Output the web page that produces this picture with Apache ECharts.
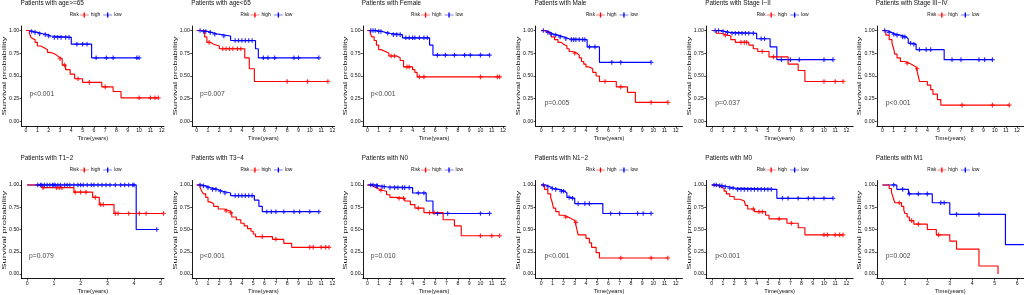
<!DOCTYPE html>
<html>
<head>
<meta charset="utf-8">
<script src="https://cdn.jsdelivr.net/npm/echarts@6/dist/echarts.min.js"></script>
<style>
html,body{margin:0;padding:0;background:#fff;}
#km{width:1024px;height:295px;}
</style>
</head>
<body>
<div id="km"></div>
<script>
// panel titles / p values / x tick max
var titles=['Patients with age>=65','Patients with age<65','Patients with Female','Patients with Male','Patients with Stage I\u2212II','Patients with Stage III\u2212IV',
	'Patients with T1\u22122','Patients with T3\u22124','Patients with N0','Patients with N1\u22122','Patients with M0','Patients with M1'];
var pvals=['p<0.001','p=0.007','p<0.001','p=0.005','p=0.037','p<0.001','p=0.079','p<0.001','p=0.010','p<0.001','p<0.001','p=0.002'];
var xTickMax=[12,12,12,12,12,12,5,12,12,12,12,6];
var yTicks=[0,0.25,0.5,0.75,1];

// [time, survival after drop]
var p1High=[[0.3,0.97],[0.45,0.92],[0.6,0.90],[0.8,0.87],[1.0,0.83],[1.3,0.81],[1.6,0.79],[1.9,0.76],[2.1,0.75],[2.4,0.73],[2.7,0.71],[2.9,0.69],[3.2,0.62],[3.5,0.57],[3.9,0.52],[4.3,0.47],[5.0,0.43],[6.7,0.38],[7.7,0.33],[8.4,0.26]];
var p1HighCens=[3.0,3.4,4.6,5.6,7.0,10.0,11.0,11.4,11.7];
var p1Low=[[0.3,0.99],[0.6,0.98],[1.0,0.965],[1.5,0.955],[1.9,0.94],[2.2,0.925],[4.0,0.85],[5.8,0.70]];
var p1LowCens=[0.5,0.8,1.2,1.7,2.0,2.5,2.8,3.1,3.5,3.8,4.5,5.0,5.4,6.2,7.1,7.7,9.8,10.0];

var p2High=[[0.7,0.93],[0.9,0.87],[1.2,0.85],[1.5,0.83],[2.0,0.80],[4.25,0.70],[4.65,0.58],[5.1,0.44]];
var p2HighCens=[1.1,2.3,2.6,2.9,3.2,3.6,3.9,8.0,9.8,11.6];
var p2Low=[[0.5,0.99],[1.0,0.98],[1.3,0.96],[1.9,0.94],[3.0,0.89],[5.2,0.80],[5.45,0.70]];
var p2LowCens=[0.3,0.6,0.8,1.2,1.6,2.4,3.4,3.7,4.0,4.3,4.6,4.9,5.9,6.3,6.9,8.6,9.0,10.8];

var p3High=[[0.25,0.97],[0.4,0.93],[0.6,0.89],[0.8,0.84],[1.0,0.79],[1.2,0.77],[1.6,0.75],[1.9,0.72],[2.6,0.70],[2.9,0.67],[3.2,0.60],[4.0,0.57],[4.2,0.54],[4.4,0.49]];
var p3HighCens=[2.1,2.4,3.5,3.7,4.6,5.0,10.0,11.5,11.7];
var p3Low=[[0.8,0.99],[1.3,0.98],[1.6,0.97],[2.0,0.955],[3.1,0.92],[5.5,0.84],[5.8,0.73]];
var p3LowCens=[0.3,0.5,0.7,1.0,1.2,1.8,2.3,2.6,2.9,3.4,3.7,4.0,4.2,4.6,5.0,5.3,6.2,6.9,7.7,8.6,9.1,10.0,10.8];

var p4High=[[0.3,0.98],[0.6,0.96],[0.9,0.93],[1.2,0.90],[1.5,0.87],[1.8,0.85],[2.0,0.83],[2.3,0.80],[2.5,0.77],[2.8,0.75],[3.2,0.73],[3.4,0.70],[3.6,0.66],[3.8,0.63],[4.0,0.60],[4.3,0.58],[4.6,0.54],[4.9,0.50],[5.2,0.44],[6.7,0.38],[7.7,0.32],[8.4,0.21]];
var p4HighCens=[3.0,5.7,7.1,9.8,11.3];
var p4Low=[[0.4,0.98],[0.8,0.96],[1.1,0.95],[1.5,0.93],[2.0,0.91],[2.5,0.90],[4.1,0.82],[5.2,0.65]];
var p4LowCens=[0.2,0.6,0.9,1.3,1.7,2.2,2.7,2.9,3.1,3.4,3.7,3.9,4.3,4.8,6.3,7.1,9.8];

var p5High=[[0.4,0.97],[0.8,0.95],[1.4,0.94],[1.7,0.90],[2.1,0.87],[3.3,0.84],[3.7,0.80],[4.1,0.77],[5.1,0.71],[6.8,0.63],[7.7,0.56],[8.3,0.44]];
var p5HighCens=[1.2,2.6,2.9,3.1,4.5,5.5,10.0,11.0,11.7];
var p5Low=[[0.8,0.99],[1.2,0.98],[1.6,0.97],[4.0,0.91],[5.2,0.82],[5.8,0.68]];
var p5LowCens=[0.3,0.6,1.0,1.4,1.8,2.1,2.4,2.7,3.0,3.3,3.7,4.4,4.7,6.2,7.0,7.8,10.0,10.8];

var p6High=[[0.3,0.95],[0.6,0.90],[0.85,0.86],[1.0,0.80],[1.1,0.74],[1.3,0.70],[1.6,0.66],[2.0,0.64],[2.4,0.62],[2.7,0.60],[3.0,0.58],[3.15,0.52],[3.3,0.44],[4.0,0.40],[4.3,0.35],[4.5,0.30],[4.9,0.24],[5.2,0.18]];
var p6HighCens=[2.2,3.1,7.1,9.8,11.3];
var p6Low=[[0.4,0.98],[0.8,0.96],[1.1,0.95],[1.6,0.93],[2.1,0.91],[2.3,0.86],[2.6,0.85],[3.0,0.79],[5.5,0.68]];
var p6LowCens=[0.2,0.6,1.0,1.3,1.8,2.0,2.5,2.8,3.3,3.9,4.3,6.2,7.0,8.6,9.1,9.8];

var p7High=[[0.56,0.97],[1.75,0.92],[2.45,0.86],[2.7,0.78],[3.25,0.68]];
var p7HighCens=[0.6,1.1,1.2,1.3,1.8,2.0,2.2,2.55,2.75,2.85,3.3,3.4,3.8,4.2,4.45,5.1];
var p7Low=[[4.08,0.50]];
var p7LowCens=[0.4,0.5,0.55,0.65,0.75,0.85,0.95,1.0,1.05,1.15,1.25,1.4,1.5,1.6,1.75,1.9,2.0,2.1,2.25,2.4,2.5,2.65,2.8,2.95,3.1,3.3,3.5,3.65,3.8,3.95,4.0,4.85];

var p8High=[[0.3,0.97],[0.45,0.93],[0.6,0.90],[0.8,0.86],[1.0,0.81],[1.2,0.79],[1.5,0.76],[1.9,0.73],[2.4,0.71],[2.9,0.69],[3.1,0.64],[3.5,0.61],[3.9,0.57],[4.2,0.54],[4.5,0.51],[4.8,0.48],[5.0,0.45],[5.2,0.42],[6.7,0.39],[7.7,0.345],[8.4,0.30]];
var p8HighCens=[2.6,3.0,5.8,7.0,10.0,10.3,11.0,11.4,11.7];
var p8Low=[[0.4,0.99],[0.8,0.97],[1.2,0.95],[1.8,0.93],[2.3,0.91],[3.0,0.88],[5.1,0.83],[5.5,0.76],[5.8,0.70]];
var p8LowCens=[0.3,0.6,1.0,1.4,1.7,2.1,2.5,3.4,3.7,4.0,4.3,4.6,4.9,6.2,6.6,7.0,7.7,8.6,9.1,10.0,10.8];

var p9High=[[0.4,0.98],[0.6,0.96],[0.9,0.94],[1.3,0.93],[1.7,0.89],[2.0,0.86],[2.5,0.85],[3.3,0.82],[3.8,0.78],[4.2,0.74],[5.0,0.69],[6.7,0.61],[7.7,0.54],[8.3,0.43]];
var p9HighCens=[1.2,2.8,3.2,4.5,5.5,5.9,10.0,11.0,11.7];
var p9Low=[[0.7,0.99],[1.1,0.98],[1.7,0.97],[4.0,0.91],[5.2,0.82],[5.8,0.68]];
var p9LowCens=[0.3,0.5,0.8,0.9,1.3,1.5,2.0,2.4,2.7,3.1,3.3,3.7,4.5,5.0,6.2,7.1,10.0,10.8];

var p10High=[[0.3,0.95],[0.6,0.90],[0.85,0.86],[1.0,0.80],[1.1,0.74],[1.3,0.70],[1.6,0.66],[2.0,0.64],[2.4,0.62],[2.7,0.60],[3.0,0.58],[3.15,0.52],[3.3,0.44],[4.0,0.40],[4.3,0.35],[4.5,0.30],[4.9,0.24],[5.2,0.18]];
var p10HighCens=[2.2,3.1,7.1,9.8,11.3];
var p10Low=[[0.4,0.98],[0.8,0.96],[1.1,0.95],[1.6,0.93],[2.1,0.91],[2.3,0.86],[2.6,0.85],[3.0,0.79],[5.5,0.68]];
var p10LowCens=[0.2,0.6,1.0,1.3,1.8,2.0,2.5,2.8,3.3,3.9,4.3,6.2,7.0,8.6,9.1,9.8];

var p11High=[[0.5,0.98],[0.8,0.96],[1.1,0.93],[1.3,0.90],[1.6,0.87],[2.0,0.84],[2.5,0.82],[2.9,0.80],[3.0,0.77],[3.2,0.73],[3.8,0.70],[4.8,0.66],[5.1,0.62],[6.7,0.57],[7.7,0.52],[8.3,0.44]];
var p11HighCens=[3.7,4.2,4.5,6.0,7.1,10.0,10.3,11.0,11.4,11.7];
var p11Low=[[0.6,0.99],[1.0,0.98],[1.5,0.965],[2.0,0.95],[5.8,0.85]];
var p11LowCens=[0.2,0.4,0.7,0.9,1.2,1.6,1.9,2.3,2.6,2.9,3.2,3.5,3.8,4.1,4.4,4.7,5.0,5.3,6.3,6.8,7.7,8.6,9.1,10.0,10.8];

var p12High=[[0.3,0.96],[0.4,0.92],[0.45,0.88],[0.5,0.84],[0.55,0.80],[0.85,0.76],[0.95,0.72],[1.0,0.68],[1.1,0.64],[1.2,0.60],[1.4,0.56],[2.0,0.50],[2.4,0.44],[3.0,0.37],[3.3,0.28],[4.3,0.09],[5.15,0.0]];
var p12HighCens=[0.75,1.3,1.6,2.5];
var p12Low=[[0.64,0.95],[1.16,0.90],[2.22,0.80],[3.0,0.67],[5.48,0.33]];
var p12LowCens=[0.5,0.9,1.2,1.6,2.0,2.6,2.75,3.3,4.3];

// last follow-up of each curve
var highEnd=[11.7,11.6,11.7,11.3,11.7,11.3,5.1,11.7,11.7,11.3,11.7,5.15];
var lowEnd=[10.0,10.8,10.8,9.8,10.8,9.8,4.85,10.8,10.8,9.8,10.8,6.3];

var highs=[p1High,p2High,p3High,p4High,p5High,p6High,p7High,p8High,p9High,p10High,p11High,p12High];
var highCens=[p1HighCens,p2HighCens,p3HighCens,p4HighCens,p5HighCens,p6HighCens,p7HighCens,p8HighCens,p9HighCens,p10HighCens,p11HighCens,p12HighCens];
var lows=[p1Low,p2Low,p3Low,p4Low,p5Low,p6Low,p7Low,p8Low,p9Low,p10Low,p11Low,p12Low];
var lowCens=[p1LowCens,p2LowCens,p3LowCens,p4LowCens,p5LowCens,p6LowCens,p7LowCens,p8LowCens,p9LowCens,p10LowCens,p11LowCens,p12LowCens];

var RED='#ff0000',BLUE='#0000ff',TXT='#111';
var plusPath='path://M0,3.7H10V6.3H0Z M3.7,0H6.3V10H3.7Z';
var legendIcon='path://M0,4.3H20V5.7H0Z M8.5,0H11.5V10H8.5Z';
var FONT='Liberation Sans, Arial, sans-serif';

function stepData(drops,end){
	var d=[[0,1]];
	for(var i=0;i<drops.length;i++) d.push(drops[i]);
	var last=d[d.length-1];
	if(end>last[0]) d.push([end,last[1]]);
	return d;
}
function survAt(drops,t){
	var s=1;
	for(var i=0;i<drops.length;i++){ if(drops[i][0]<=t) s=drops[i][1]; }
	return s;
}
function censData(drops,times){
	return times.map(function(t){ return [t,survAt(drops,t)]; });
}

function buildOption(){
	var grids=[],xAxes=[],yAxes=[],series=[],titleArr=[],legends=[],graphics=[];
	for(var i=0;i<12;i++){
		var col=i%6,row=Math.floor(i/6);
		var gLeft=col<3 ? col*170.67+21.5 : 512+(col-3)*170.67+23.5;
		var gWidth=col<3 ? 142.5 : 147;
		var gTop=row==0 ? 26 : 180.5;
		var gHeight=row==0 ? 100 : 99.5;
		var xm=xTickMax[i];
		var xmin,xmax;
		if(xm==12){ xmin=col<3?-0.4:-0.5; xmax=col<3?12.2:12.6; }
		else if(xm==5){ xmin=-0.21; xmax=5.12; }
		else { xmin=-0.25; xmax=6.3; }
		var xt=[]; for(var k=0;k<=xm;k++) xt.push(k);

		grids.push({left:gLeft,top:gTop,width:gWidth,height:gHeight});
		xAxes.push({
			type:'value',gridIndex:i,min:xmin,max:xmax,
			name:'Time(years)',nameLocation:'middle',nameGap:9.5,
			nameTextStyle:{fontSize:5.8,color:TXT,fontFamily:FONT},
			axisLine:{onZero:false,lineStyle:{color:'#000',width:0.9}},
			axisTick:{customValues:xt,length:2,lineStyle:{color:'#000',width:0.7}},
			axisLabel:{customValues:xt,fontSize:5.2,margin:2.3,color:TXT,fontFamily:FONT},
			splitLine:{show:false}
		});
		yAxes.push({
			type:'value',gridIndex:i,min:-0.05,max:1.05,
			axisLine:{onZero:false,lineStyle:{color:'#000',width:0.9}},
			axisTick:{customValues:yTicks,length:2,lineStyle:{color:'#000',width:0.7}},
			axisLabel:{customValues:yTicks,fontSize:5.2,margin:2.3,color:TXT,fontFamily:FONT,
				formatter:function(v){return v.toFixed(2);}},
			splitLine:{show:false}
		});
		titleArr.push({text:titles[i],left:gLeft-1,top:row==0?0.5:155.5,padding:0,
			textStyle:{fontSize:6.4,fontWeight:'normal',color:TXT,fontFamily:FONT}});
		var cx=gLeft+gWidth/2;
		legends.push({
			data:[{name:'high',icon:legendIcon},{name:'low',icon:legendIcon}],
			left:cx-13,top:row==0?12.5:167.5,padding:0,
			itemWidth:9,itemHeight:5,itemGap:3,symbolKeepAspect:false,
			selectedMode:false,
			textStyle:{fontSize:5,color:TXT,fontFamily:FONT,padding:[0,0,0,-3]}
		});
		graphics.push({type:'text',left:cx-23,top:row==0?12.6:167.6,
			style:{text:'Risk',fontSize:4.6,fill:TXT,fontFamily:FONT}});
		// y轴标题 (原图纵向拉长)
		graphics.push({type:'text',x:gLeft-17,y:gTop+gHeight/2,rotation:Math.PI/2,scaleX:1.62,scaleY:1,
			style:{text:'Survival probability',fontSize:5.8,fill:TXT,fontFamily:FONT,align:'center',verticalAlign:'middle'}});

		series.push({name:'high',type:'line',xAxisIndex:i,yAxisIndex:i,step:'end',
			data:stepData(highs[i],highEnd[i]),showSymbol:false,color:RED,
			lineStyle:{color:RED,width:1.15},z:3});
		series.push({name:'low',type:'line',xAxisIndex:i,yAxisIndex:i,step:'end',
			data:stepData(lows[i],lowEnd[i]),showSymbol:false,color:BLUE,
			lineStyle:{color:BLUE,width:1.15},z:2});
		series.push({type:'scatter',xAxisIndex:i,yAxisIndex:i,symbol:plusPath,symbolSize:4.6,
			data:censData(highs[i],highCens[i]),itemStyle:{color:RED},z:4});
		series.push({type:'scatter',xAxisIndex:i,yAxisIndex:i,symbol:plusPath,symbolSize:4.6,
			data:censData(lows[i],lowCens[i]),itemStyle:{color:BLUE},z:4});
		// p值
		var px=xm==12?0.3:(xm==5?0.07:0.15);
		var py=i<3?0.30:0.20;
		series.push({type:'scatter',xAxisIndex:i,yAxisIndex:i,symbolSize:0,data:[[px,py]],
			label:{show:true,position:'right',distance:0,formatter:pvals[i],
				fontSize:6.8,color:TXT,fontFamily:FONT},z:5});
	}
	return {
		animation:false,
		backgroundColor:'#fff',
		title:titleArr,
		legend:legends,
		grid:grids,
		xAxis:xAxes,
		yAxis:yAxes,
		graphic:graphics,
		series:series
	};
}

var myChart=echarts.init(document.getElementById('km'));
myChart.setOption(buildOption());
</script>
</body>
</html>
